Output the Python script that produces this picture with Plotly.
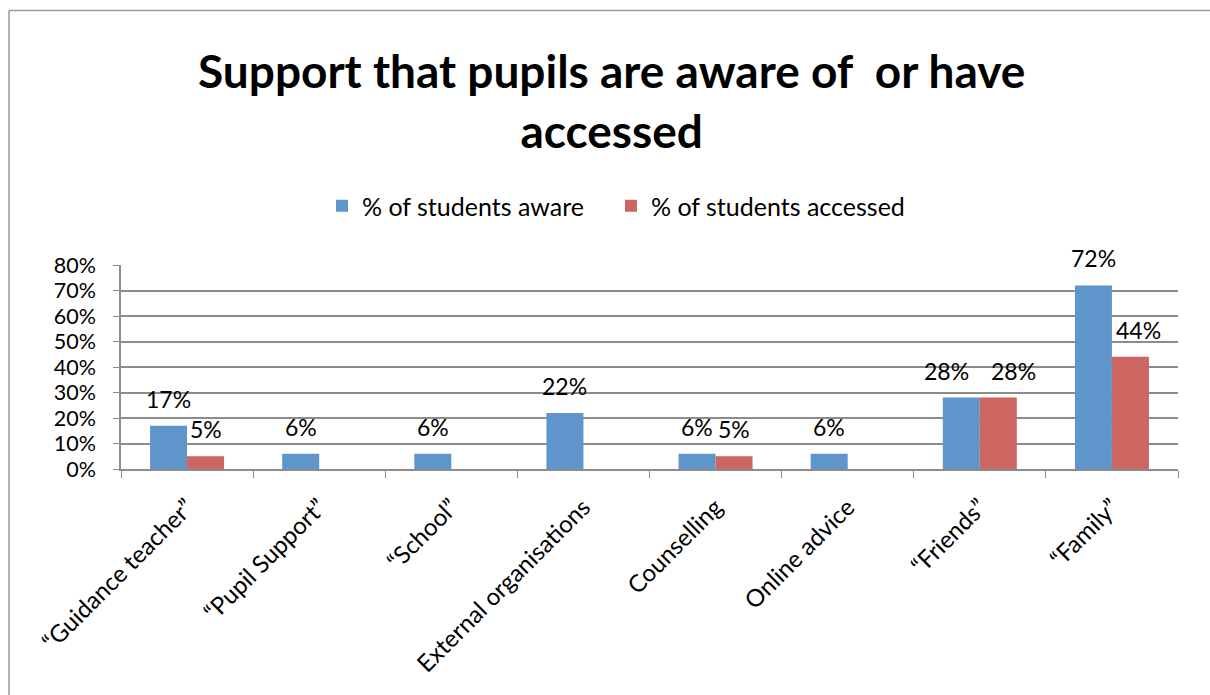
import plotly.graph_objects as go

categories = ["\u201cGuidance teacher\u201d", "\u201cPupil Support\u201d", "\u201cSchool\u201d",
              "External organisations", "Counselling", "Online advice",
              "\u201cFriends\u201d", "\u201cFamily\u201d"]
aware = [0.17, 0.06, 0.06, 0.22, 0.06, 0.06, 0.28, 0.72]
accessed = [0.05, None, None, None, 0.05, None, 0.28, 0.44]

# sideways nudges (px) for labels that would otherwise collide
label_nudge = {("aware", 6): -15, ("accessed", 6): 15, ("accessed", 7): 8}

blue = "#5F95CB"
red = "#CD6560"
grid = "#8C8C8C"
font = "Lato"

W, H = 1210, 695
ml, mr, mt, mb = 121, 32, 265, 226
pw = W - ml - mr
ph = H - mt - mb


def px_x(p):
    return (p - ml) / pw


def px_y(p):
    return (H - mb - p) / ph


fig = go.Figure()
fig.add_trace(go.Bar(x=categories, y=aware, name="% of students aware",
                     legendwidth=244,
                     marker=dict(color=blue, line=dict(width=0))))
fig.add_trace(go.Bar(x=categories, y=accessed, name="% of students accessed",
                     legendwidth=262,
                     marker=dict(color=red, line=dict(width=0))))

# value labels above each bar
annotations = []
for key, vals, dx in (("aware", aware, -18.5), ("accessed", accessed, 18.5)):
    for i, (c, v) in enumerate(zip(categories, vals)):
        if v is None:
            continue
        annotations.append(dict(x=c, y=v, xref="x", yref="y", text=f"{round(v*100)}%",
                                showarrow=False, xshift=dx + label_nudge.get((key, i), 0),
                                yshift=27, yanchor="middle",
                                font=dict(family=font, size=23, color="#000")))

# chart title
annotations.append(dict(text="<b>Support that pupils are aware of  or have<br>accessed</b>",
                        xref="paper", yref="paper", x=px_x(611), y=px_y(100),
                        xanchor="center", yanchor="middle", showarrow=False,
                        font=dict(family=font, size=46, color="#000")))

# chart frame (left and top edges)
shapes = [
    dict(type="line", xref="paper", yref="paper", x0=px_x(9), x1=px_x(W + 5),
         y0=px_y(10.5), y1=px_y(10.5), line=dict(color="#9A9A9A", width=1.5)),
    dict(type="line", xref="paper", yref="paper", x0=px_x(9), x1=px_x(9),
         y0=px_y(10.5), y1=px_y(H + 5), line=dict(color="#9A9A9A", width=1.5)),
]

fig.update_layout(
    width=W, height=H,
    margin=dict(l=ml, r=mr, t=mt, b=mb),
    paper_bgcolor="white", plot_bgcolor="white",
    barmode="group", bargap=0.44, bargroupgap=0,
    font=dict(family=font, color="#000"),
    legend=dict(orientation="h", x=px_x(322), xanchor="left", xref="paper",
                y=px_y(206), yanchor="middle", font=dict(family=font, size=25),
                traceorder="normal"),
    annotations=annotations,
    shapes=shapes,
    showlegend=True,
)
fig.update_yaxes(range=[0, 0.8], dtick=0.1, tickformat=".0%", showgrid=True,
                 gridcolor=grid, gridwidth=1.5, showline=True, linecolor=grid,
                 linewidth=1.5, ticks="outside", ticklen=6, tickcolor=grid,
                 ticklabelstandoff=13,
                 tickfont=dict(family=font, size=21.5), zeroline=False)
fig.update_xaxes(showline=True, linecolor=grid, linewidth=1.5, ticks="outside",
                 tickson="boundaries", ticklen=7, tickcolor=grid, tickangle=-45,
                 ticklabelstandoff=13,
                 tickfont=dict(family=font, size=24))

fig.write_html("out.html")
